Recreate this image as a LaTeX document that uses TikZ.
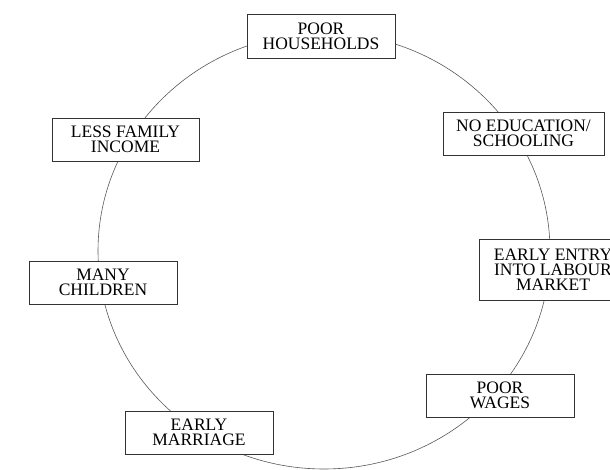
\documentclass[tikz,border=0pt]{standalone}
\usepackage{fontspec}
\setmainfont{Liberation Serif}
\begin{document}
\begin{tikzpicture}[x=1pt,y=-1pt,
  cyclebox/.style={draw=black!80, line width=0.9pt, fill=white, align=center,
    inner sep=0pt, minimum width=148pt, minimum height=43pt,
    font=\fontsize{17.5}{15}\selectfont},
  ring/.style={draw=black!65, line width=0.6pt}]
\useasboundingbox (0,0) rectangle (610,470);
\clip (0,0) rectangle (610,470);
\coordinate (ctr) at (324,251);
\draw[ring] (ctr) ellipse [x radius=226, y radius=218];
\node[cyclebox, minimum height=44pt] (ph) at (321,36) {POOR\\HOUSEHOLDS};
\node[cyclebox, minimum width=161pt] (ne) at (523.5,133.5) {NO EDUCATION/\\SCHOOLING};
\node[cyclebox, minimum height=61pt] (ee) at (553,269.5) {EARLY ENTRY\\INTO LABOUR\\MARKET};
\node[cyclebox] (pw) at (500,395.5) {POOR\\WAGES};
\node[cyclebox] (em) at (199,432.5) {EARLY\\MARRIAGE};
\node[cyclebox] (mc) at (103,282.5) {MANY\\CHILDREN};
\node[cyclebox, minimum width=147pt] (lf) at (125.5,139.5) {LESS FAMILY\\INCOME};
\end{tikzpicture}
\end{document}
